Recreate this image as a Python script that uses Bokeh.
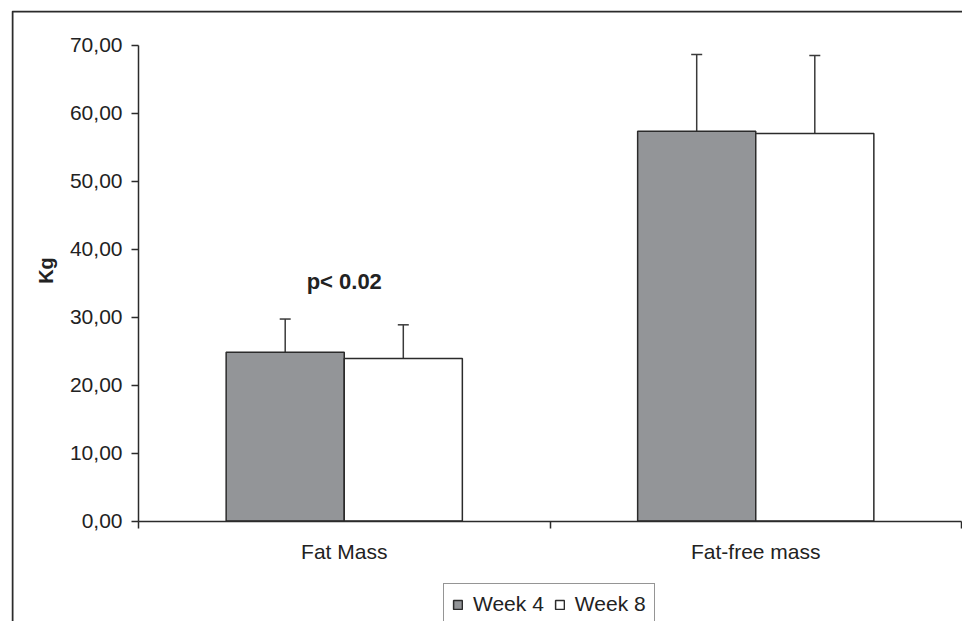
import math
from bokeh.plotting import figure
from bokeh.models import (Range1d, FixedTicker, CustomJSTickFormatter, Whisker, TeeHead,
                          ColumnDataSource, Legend, LegendItem, BoxAnnotation, Label)
from bokeh.core.properties import value
from bokeh.embed import file_html
from bokeh.resources import INLINE

# ---- data ----
categories = ["Fat Mass", "Fat-free mass"]
week4 = [24.8, 57.3]
week8 = [23.9, 57.0]
sd_week4 = [4.9, 11.3]
sd_week8 = [4.95, 11.45]
series_names = ["Week 4", "Week 8"]
y_ticks = [0, 10, 20, 30, 40, 50, 60, 70]
annotation_text = "p< 0.02"
y_label = "Kg"

FONT = "Liberation Sans"
DARK = "#2b2b2b"
TXT = "#222222"

W, H = 962, 621
FRAME_L, FRAME_T = 11, 10          # outer chart border (canvas px)
AX_X, AX_Y = 138, 520.5            # axis origin (canvas px)
PX_PER_CAT = 411.5
PX_PER_UNIT = 6.8
ncat = len(categories)

x_start = -(AX_X - FRAME_L) / PX_PER_CAT
x_end = ncat + (W - (AX_X + ncat * PX_PER_CAT)) / PX_PER_CAT
y_start = -(H - AX_Y) / PX_PER_UNIT
y_end = (AX_Y - FRAME_T) / PX_PER_UNIT

p = figure(width=W, height=H, output_backend="svg", toolbar_location=None,
           x_range=Range1d(x_start, x_end), y_range=Range1d(y_start, y_end),
           min_border_left=FRAME_L, min_border_right=0, min_border_top=FRAME_T,
           min_border_bottom=0)
p.outline_line_color = None
p.xgrid.visible = False
p.ygrid.visible = False

bw = 0.287
centers = [i + 0.5 for i in range(ncat)]
x4 = [c - bw / 2 for c in centers]
x8 = [c + bw / 2 for c in centers]

src4 = ColumnDataSource(dict(x=x4, top=week4, up=[v + s for v, s in zip(week4, sd_week4)]))
src8 = ColumnDataSource(dict(x=x8, top=week8, up=[v + s for v, s in zip(week8, sd_week8)]))

r4 = p.vbar(x="x", top="top", bottom=0, width=bw, source=src4, fill_color="#939598",
            line_color=DARK, line_width=1.5)
r8 = p.vbar(x="x", top="top", bottom=0, width=bw, source=src8, fill_color="#ffffff",
            line_color=DARK, line_width=1.5)

for src in (src4, src8):
    w = Whisker(source=src, base="x", upper="up", lower="top", dimension="height",
                line_color="#3a3a3a", line_width=1.5, lower_head=None,
                upper_head=TeeHead(size=11, line_color="#3a3a3a", line_width=1.5))
    p.add_layout(w)

# significance annotation above Fat Mass
ann_y = max(week4[0] + sd_week4[0], week8[0] + sd_week8[0]) + 5.5
p.text(x=[centers[0]], y=[ann_y], text=[annotation_text], text_font=value(FONT),
       text_font_size="22px", text_font_style="bold", text_align="center",
       text_baseline="middle", text_color=TXT)

# y axis
ya = p.yaxis[0]
ya.fixed_location = 0
ya.bounds = (y_ticks[0], y_ticks[-1])
ya.ticker = FixedTicker(ticks=y_ticks)
ya.formatter = CustomJSTickFormatter(code="return tick.toFixed(2).replace('.', ',');")
ya.major_tick_out = 7
ya.major_tick_in = 0
ya.minor_tick_line_color = None
ya.major_label_standoff = 9
ya.major_label_text_font = FONT
ya.major_label_text_font_size = "21px"
ya.major_label_text_color = TXT
ya.axis_line_color = DARK
ya.axis_line_width = 1.5
ya.major_tick_line_color = DARK
ya.major_tick_line_width = 1.5

# y axis title (placed as in the reference, slightly above the axis middle)
p.add_layout(Label(x=45, y=270, x_units="canvas", y_units="canvas", text=y_label,
                   angle=math.pi / 2, text_align="center", text_baseline="middle",
                   text_font=FONT, text_font_style="bold", text_font_size="20px",
                   text_color=TXT))

# x axis
xa = p.xaxis[0]
xa.fixed_location = 0
xa.bounds = (0, ncat)
xa.ticker = FixedTicker(ticks=centers, minor_ticks=list(range(ncat + 1)))
xa.major_label_overrides = {c: n for c, n in zip(centers, categories)}
xa.major_tick_out = 7
xa.major_tick_in = 0
xa.major_tick_line_color = None
xa.minor_tick_out = 7
xa.minor_tick_in = 0
xa.minor_tick_line_color = DARK
xa.minor_tick_line_width = 1.5
xa.major_label_standoff = 12
xa.major_label_text_font = FONT
xa.major_label_text_font_size = "21px"
xa.major_label_text_color = TXT
xa.axis_line_color = DARK
xa.axis_line_width = 1.5

# legend below the axis (cut by the bottom edge as in the reference)
legend = Legend(items=[LegendItem(label=series_names[0], renderers=[r4]),
                       LegendItem(label=series_names[1], renderers=[r8])],
                orientation="horizontal", location=(443 - FRAME_L, -4),
                glyph_width=11, glyph_height=11, label_standoff=10, spacing=10,
                padding=8, margin=0, label_text_font=FONT, label_text_font_size="21px",
                label_text_color=TXT, label_height=21,
                border_line_color=DARK, border_line_width=1.2,
                background_fill_color="#ffffff", background_fill_alpha=1.0)
p.add_layout(legend, "center")

# outer chart border (only its left and top edges fall inside the picture)
border = BoxAnnotation(left=FRAME_L + 1, top=FRAME_T + 1, right=5000, bottom=5000,
                       left_units="canvas", right_units="canvas",
                       top_units="canvas", bottom_units="canvas",
                       fill_color=None, fill_alpha=0, line_color=DARK, line_alpha=1.0,
                       line_width=2, level="overlay")
p.add_layout(border)

open("out.html", "w").write(file_html(p, INLINE))
